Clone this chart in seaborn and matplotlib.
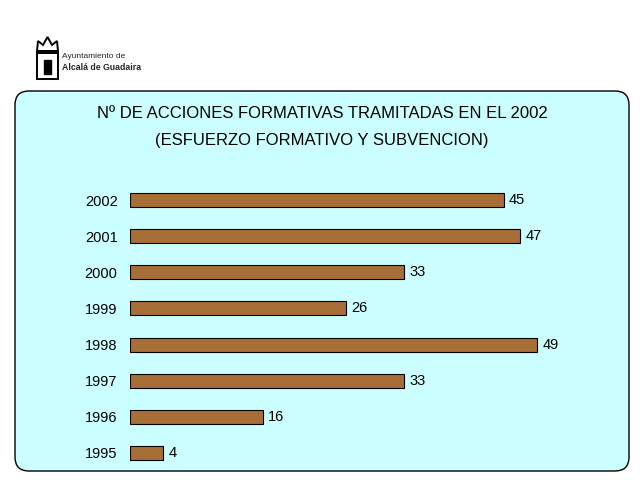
import matplotlib
matplotlib.use("Agg")
import matplotlib.pyplot as plt
from matplotlib.patches import FancyBboxPatch, Rectangle, Polygon
import seaborn as sns
import pandas as pd

years = ["2002", "2001", "2000", "1999", "1998", "1997", "1996", "1995"]
values = [45, 47, 33, 26, 49, 33, 16, 4]
title_line1 = "Nº DE ACCIONES FORMATIVAS TRAMITADAS EN EL 2002"
title_line2 = "(ESFUERZO FORMATIVO Y SUBVENCION)"

sns.set_theme(style="white")
plt.rcParams['font.family'] = ['Liberation Sans', 'DejaVu Sans']

df = pd.DataFrame({"year": years, "value": values})

fig = plt.figure(figsize=(6.4, 4.8), dpi=100)
fig.patch.set_facecolor("white")

# background layer in pixel coordinates
bg = fig.add_axes([0, 0, 1, 1])
bg.set_xlim(0, 640)
bg.set_ylim(480, 0)
bg.axis("off")
panel = FancyBboxPatch((15, 91), 614, 380, boxstyle="round,pad=0,rounding_size=14",
                       facecolor="#CCFFFF", edgecolor="black", linewidth=1.0)
bg.add_patch(panel)
bg.text(322, 113, title_line1, ha="center", va="center", fontsize=12, color="black")
bg.text(322, 140, title_line2, ha="center", va="center", fontsize=12, color="black")

# logo (simple crest) and text
bg.add_patch(Rectangle((37, 53), 21, 26, facecolor="white", edgecolor="black", linewidth=1.4))
bg.add_patch(Rectangle((44, 60), 7, 14, facecolor="black", edgecolor="black"))
bg.add_patch(Polygon([[37, 51], [38, 41], [43, 45], [47.5, 37], [52, 45], [57, 41], [58, 51]],
                     closed=True, facecolor="white", edgecolor="black", linewidth=1.4))
bg.text(62, 57, "Ayuntamiento de", fontsize=6, ha="left", va="center")
bg.text(62, 67, "Alcalá de Guadaira", fontsize=6.3, fontweight="bold", ha="left", va="center")

# bar chart axes
left = 130 / 640
width = 498 / 640
top_px = 200 - 18.07
bottom_px = 453 + 18.07
ax = fig.add_axes([left, 1 - bottom_px / 480, width, (bottom_px - top_px) / 480])
ax.patch.set_alpha(0)
sns.barplot(data=df, x="value", y="year", order=years, orient="h",
            color="#A86E38", edgecolor="black", linewidth=0.8, width=0.39,
            saturation=1, ax=ax)
ax.set_xlim(0, 60)
ax.set_ylim(7.5, -0.5)
for c in ax.containers:
    ax.bar_label(c, labels=[str(v) for v in values], padding=4, fontsize=10.5,
                 color="black")
ax.set_xlabel("")
ax.set_ylabel("")
ax.set_xticks([])
ax.tick_params(axis="y", length=0, pad=9, labelsize=10.5, labelcolor="black")
for s in ax.spines.values():
    s.set_visible(False)

fig.savefig("out.png", dpi=100)
